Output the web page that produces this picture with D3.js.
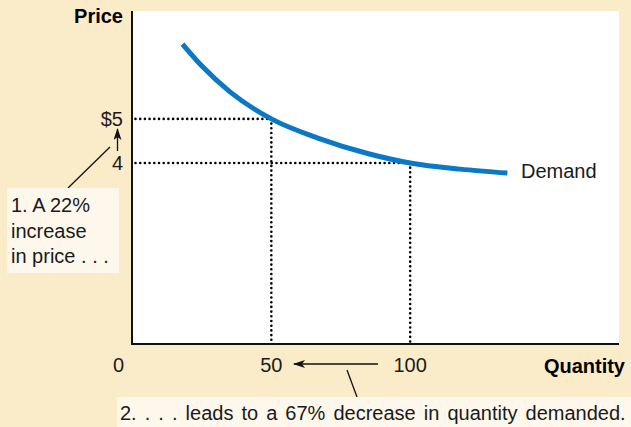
<!DOCTYPE html>
<html>
<head>
<meta charset="utf-8">
<script src="https://cdn.jsdelivr.net/npm/d3@7"></script>
<style>
  body { margin: 0; padding: 0; background: #faecc9; }
  svg { display: block; }
</style>
</head>
<body>
<svg id="chart" width="631" height="427"></svg>
<script>
// demand curve (quantity, price)
const demandQty = [18, 25, 35, 50, 67, 85, 100, 118, 135];
const demandPrice = [6.7, 6.2, 5.62, 5.0, 4.56, 4.21, 4.0, 3.86, 3.77];

const xTicks = [0, 50, 100];
const xTickLabels = ['0', '50', '100'];
const yTicks = [4, 5];
const yTickLabels = ['4', '$5'];

// marked points (quantity, price)
const markQty = [50, 100];
const markPrice = [5, 4];

const width = 631, height = 427;
const plot = { left: 132, right: 619, top: 11, bottom: 344 };
const font = "'Liberation Sans', Arial, sans-serif";
const ink = '#1a1a1a';

const svg = d3.select('#chart');

svg.append('rect')
    .attr('x', 0).attr('y', 0)
    .attr('width', width).attr('height', height)
    .attr('fill', '#faecc9');

svg.append('rect')
    .attr('x', plot.left).attr('y', plot.top)
    .attr('width', plot.right - plot.left)
    .attr('height', plot.bottom - plot.top)
    .attr('fill', '#ffffff');

const xScale = d3.scaleLinear().domain([0, 175.2]).range([plot.left + 0.5, plot.right]);
const yScale = d3.scaleLinear().domain([-0.11, 7.45]).range([plot.bottom, plot.top]);

// dotted guide lines
const dots = svg.append('g')
    .attr('stroke', '#000')
    .attr('stroke-width', 2.6)
    .attr('stroke-dasharray', '0,4.7')
    .attr('stroke-linecap', 'round');

markQty.forEach((q, i) => {
    dots.append('line')
        .attr('x1', xScale(0) + 3).attr('y1', yScale(markPrice[i]))
        .attr('x2', xScale(q)).attr('y2', yScale(markPrice[i]));
    dots.append('line')
        .attr('x1', xScale(q)).attr('y1', yScale(markPrice[i]))
        .attr('x2', xScale(q)).attr('y2', plot.bottom);
});

// demand curve
const line = d3.line()
    .x(d => xScale(d[0]))
    .y(d => yScale(d[1]))
    .curve(d3.curveMonotoneX);

svg.append('path')
    .datum(d3.zip(demandQty, demandPrice))
    .attr('d', line)
    .attr('fill', 'none')
    .attr('stroke', '#0b78c5')
    .attr('stroke-width', 5);

svg.append('text')
    .attr('x', 521)
    .attr('y', yScale(demandPrice[demandPrice.length - 1]) + 5)
    .attr('font-family', font).attr('font-size', 20)
    .attr('fill', ink)
    .text('Demand');

// axes
svg.append('line')
    .attr('x1', plot.left).attr('y1', plot.top)
    .attr('x2', plot.left).attr('y2', plot.bottom)
    .attr('stroke', '#111').attr('stroke-width', 2);
svg.append('line')
    .attr('x1', plot.left - 1).attr('y1', plot.bottom)
    .attr('x2', plot.right).attr('y2', plot.bottom)
    .attr('stroke', '#111').attr('stroke-width', 2);

// tick labels
svg.selectAll('.xlab')
    .data(xTicks)
    .join('text')
    .attr('class', 'xlab')
    .attr('x', d => d === 0 ? xScale(d) - 14 : xScale(d))
    .attr('y', 372)
    .attr('text-anchor', 'middle')
    .attr('font-family', font).attr('font-size', 20)
    .attr('fill', ink)
    .text((d, i) => xTickLabels[i]);

svg.selectAll('.ylab')
    .data(yTicks)
    .join('text')
    .attr('class', 'ylab')
    .attr('x', 123)
    .attr('y', d => yScale(d) + 7)
    .attr('text-anchor', 'end')
    .attr('font-family', font).attr('font-size', 20)
    .attr('fill', ink)
    .text((d, i) => yTickLabels[i]);

// axis titles
svg.append('text')
    .attr('x', 123).attr('y', 23)
    .attr('text-anchor', 'end')
    .attr('font-family', font).attr('font-size', 20).attr('font-weight', 'bold')
    .attr('fill', '#000')
    .text('Price');
svg.append('text')
    .attr('x', 625).attr('y', 373)
    .attr('text-anchor', 'end')
    .attr('font-family', font).attr('font-size', 20).attr('font-weight', 'bold')
    .attr('fill', '#000')
    .text('Quantity');

// arrowheads
const defs = svg.append('defs');
defs.append('marker')
    .attr('id', 'arrow')
    .attr('viewBox', '0 0 12 8')
    .attr('refX', 11).attr('refY', 4)
    .attr('markerWidth', 12).attr('markerHeight', 8)
    .attr('markerUnits', 'userSpaceOnUse')
    .attr('orient', 'auto')
    .append('path')
    .attr('d', 'M0,0 L12,4 L0,8 L3,4 Z')
    .attr('fill', '#111');

// price arrow (4 -> 5)
svg.append('line')
    .attr('x1', 117.5).attr('y1', 151)
    .attr('x2', 117.5).attr('y2', 129)
    .attr('stroke', '#111').attr('stroke-width', 1.3)
    .attr('marker-end', 'url(#arrow)');
svg.append('line')
    .attr('x1', 110).attr('y1', 147)
    .attr('x2', 68).attr('y2', 188)
    .attr('stroke', '#111').attr('stroke-width', 1.3);

// quantity arrow (100 -> 50)
svg.append('line')
    .attr('x1', 378).attr('y1', 364)
    .attr('x2', 294).attr('y2', 364)
    .attr('stroke', '#111').attr('stroke-width', 1.3)
    .attr('marker-end', 'url(#arrow)');
svg.append('line')
    .attr('x1', 347).attr('y1', 370)
    .attr('x2', 357).attr('y2', 397)
    .attr('stroke', '#111').attr('stroke-width', 1.3);

// annotation boxes
svg.append('rect')
    .attr('x', 7).attr('y', 188)
    .attr('width', 112).attr('height', 85)
    .attr('fill', '#fef8ec');
const note1 = ['1. A 22%', 'increase', 'in price . . .'];
svg.selectAll('.note1')
    .data(note1)
    .join('text')
    .attr('class', 'note1')
    .attr('x', 11)
    .attr('y', (d, i) => 212 + i * 25.5)
    .attr('font-family', font).attr('font-size', 20)
    .attr('fill', ink)
    .text(d => d);

svg.append('rect')
    .attr('x', 117).attr('y', 397)
    .attr('width', 514).attr('height', 30)
    .attr('fill', '#fef8ec');
svg.append('text')
    .attr('x', 120).attr('y', 420)
    .attr('font-family', font).attr('font-size', 20)
    .attr('word-spacing', 2.5)
    .attr('fill', ink)
    .text('2. . . . leads to a 67% decrease in quantity demanded.');
</script>
</body>
</html>
